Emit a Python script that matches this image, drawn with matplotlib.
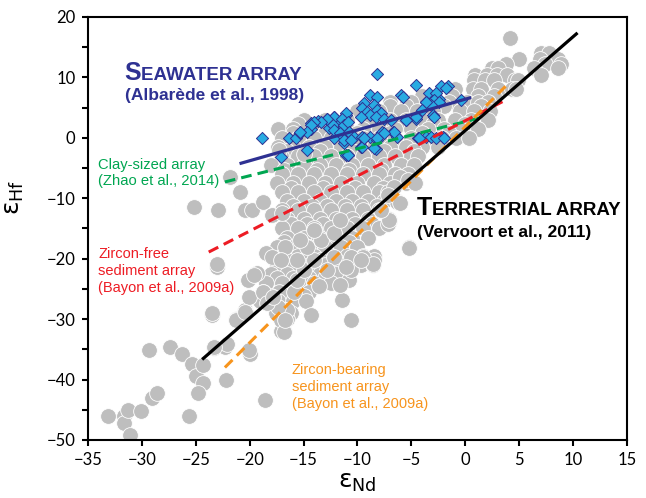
import matplotlib
matplotlib.use('Agg')
import matplotlib.pyplot as plt
import numpy as np

# gray circles: compiled crustal / sediment data (eNd, eHf)
gray_rows = {
    16.5: [4.1],
    14.0: [7.0, 7.8],
    13.0: [5.0, 6.9, 8.6],
    12.3: [3.8, 7.4, 8.9],
    11.5: [2.5, 3.0, 6.4, 8.6],
    10.4: [0.9, 2.0, 2.9, 3.9, 7.05],
    9.5: [0.8, 1.8, 2.7, 4.6, 4.9],
    8.0: [-1.0, 0.7, 1.5, 3.0, 4.3, 4.7],
    7.0: [-4.0, -1.2, 1.2, 2.7],
    6.0: [-7.0, -5.0, -3.0, -1.5, 0.2, 1.2, 2.1],
    5.25: [-7.0, -5.5, -2.0, 1.5],
    4.5: [-10.0, -8.0, -6.0, -4.5, -3.0, -0.5, 0.85, 2.25],
    3.0: [-15.0, -13.0, -11.0, -9.0, -7.0, -5.5, -4.0, -2.5, -1.0, 0.5, 2.1],
    2.25: [-15.5, -12.0, -9.0, -6.0, -3.0, 0.0],
    1.5: [-17.4, -16.0, -14.0, -12.5, -11.0, -9.5, -8.0, -6.5, -5.0, -3.5, -2.0, -0.5, 1.2],
    0.75: [-16.0, -13.0, -10.0, -7.0, -4.0, -1.5],
    0.0: [-17.0, -15.5, -14.0, -12.5, -11.0, -9.5, -8.0, -6.5, -5.0, -3.5, -2.2, -0.9, 0.3],
    -1.5: [-17.4, -16.0, -14.5, -13.0, -11.5, -10.0, -8.5, -7.0, -5.5, -4.0, -2.5],
    -2.25: [-16.5, -13.5, -10.5, -7.5, -4.8],
    -3.0: [-17.1, -15.5, -14.0, -12.5, -11.0, -9.5, -8.0, -6.5, -5.0, -4.4],
    -4.5: [-18.0, -16.5, -15.0, -13.5, -12.0, -10.5, -9.0, -7.5, -6.0, -4.8],
    -5.25: [-16.8, -13.8, -10.8, -7.8],
    -6.0: [-17.0, -15.5, -14.0, -12.5, -11.0, -9.5, -8.0, -6.5, -5.3],
    -7.5: [-17.5, -16.0, -14.5, -13.0, -11.5, -10.0, -8.5, -7.0, -5.5, -4.7],
    -8.25: [-16.2, -13.2, -10.2, -7.6],
    -9.0: [-17.0, -15.5, -14.0, -12.5, -11.0, -9.5, -8.0, -7.2],
    -10.5: [-16.5, -15.0, -13.5, -12.0, -10.5, -9.0, -7.5, -6.3],
    -11.25: [-16.0, -14.2, -12.8, -11.2, -9.7, -8.2],
    -12.0: [-17.0, -15.5, -14.0, -12.5, -11.0, -9.5, -8.0],
    -13.5: [-16.5, -15.0, -13.5, -12.0, -10.5, -9.0, -7.1],
    -14.25: [-16.2, -14.7, -13.2, -11.7, -10.2, -8.7],
    -15.0: [-17.0, -15.5, -14.0, -12.5, -11.0, -9.5, -8.0],
    -16.5: [-16.5, -15.0, -13.5, -12.0, -10.5, -9.0],
    -17.25: [-16.8, -15.2, -13.7, -12.2, -10.8],
    -18.0: [-17.5, -16.0, -14.5, -13.0, -11.5, -10.0, -5.2],
    -19.5: [-17.0, -15.5, -14.0, -12.5, -11.0, -9.5, -8.5],
    -20.25: [-16.5, -15.0, -13.5, -12.0, -10.5],
    -21.0: [-17.5, -16.0, -14.5, -13.0, -11.5, -9.7, -8.6],
    -22.5: [-19.5, -18.0, -16.5, -15.0, -13.5, -12.0],
    -23.25: [-17.5, -16.0, -14.5, -13.0],
    -24.0: [-18.5, -17.0, -15.5, -14.0, -12.5],
    -25.5: [-18.8, -17.3, -15.9, -14.5],
    -26.25: [-18.0, -16.5, -15.0],
    -27.0: [-19.0, -17.4, -16.0, -14.8],
    -28.5: [-20.4, -16.5],
    -29.0: [-16.2, -17.6],
    -30.0: [-21.3, -17.1, -16.5],
    -32.0: [-16.8, -17.1],
}
gray_out_x = [-33.1, -31.7, -31.7, -31.25, -31.1, -30.1, -29.1, -28.6, -29.3, -27.4,
              -26.3, -25.35, -25.0, -24.3, -24.8, -25.6, -24.3, -23.3, -22.3, -22.1,
              -20.0, -22.2, -18.6, -23.0, -23.5, -21.2, -20.3, -20.1, -20.2, -18.5,
              -19.3, -18.8, -17.9, -16.7, -14.35, -13.6, -11.4, -10.6, -10.8, -17.1,
              -16.8, -16.5, -17.4, -15.9, -18.4, -17.8, -15.6, -15.0, -14.0, -15.6,
              -17.1, -14.7, -13.4, -15.3, -12.2, -14.0, -12.2, -10.6, -12.8, -11.6,
              -21.8, -20.9, -22.9, -20.4, -19.8, -18.8, -17.9, -17.0, -23.0, -25.2,
              -6.3, -7.1, -5.2, -8.5, -9.5, -10.6, -7.2, -8.6, -11.1, -9.7,
              -6.1, -5.35, -4.7, -6.6, -7.2, -6.1, -7.1, -7.8, -17.3, -15.0,
              -23.5, -21.3, -20.4, -19.6, -16.7, -20.1, -23.3, -11.6]
gray_out_y = [-46.0, -46.1, -47.2, -45.0, -49.2, -45.2, -43.1, -42.2, -35.1, -34.6,
              -35.7, -37.5, -39.4, -40.5, -42.2, -46.1, -37.6, -34.8, -34.6, -34.1,
              -35.7, -40.0, -43.4, -21.3, -29.3, -30.0, -29.0, -26.4, -23.5, -19.1,
              -22.4, -25.5, -19.7, -18.0, -29.3, -24.6, -26.8, -30.1, -23.5, -30.1,
              -32.1, -28.5, -28.0, -25.5, -27.4, -26.3, -23.5, -21.9, -20.2, -20.2,
              -20.2, -18.0, -16.9, -16.9, -15.8, -15.2, -19.7, -21.9, -21.9, -13.6,
              -6.4, -8.9, -11.9, -11.9, -11.9, -10.6, -12.8, -12.5, -20.8, -11.4,
              -10.6, -13.9, -18.3, -20.2, -19.7, -19.7, -14.2, -20.8, -21.3, -20.2,
              -6.4, -7.0, -7.5, -8.1, -9.5, -10.8, -13.6, -11.9, -2.0, -2.6,
              -29.0, -30.1, -28.8, -22.7, -30.1, -35.1, -34.6, -24.4]

gray_x = [x for y, xs in gray_rows.items() for x in xs] + gray_out_x
gray_y = [y for y, xs in gray_rows.items() for x in xs] + gray_out_y

# blue diamonds: seawater (Fe-Mn crusts / nodules)
sw_x = [-18.85, -17.1, -16.4, -15.7, -15.3, -14.35, -14.35, -13.7, -12.8, -12.2,
        -11.1, -11.6, -14.65, -12.6, -12.2, -11.25, -11.1, -10.6,
        -8.15, -4.6, -6.0, -3.35, -1.6, -8.8, -8.15, -3.65, -3.0, -2.4,
        -9.4, -8.5, -9.55, -9.1, -8.15, -7.85, -8.8, -8.3, -7.55, -9.7,
        -6.9, -5.5, -4.6, -11.1, -12.2, -11.4, -12.8, -13.4, -14.0, -14.35,
        -12.3, -11.25, -10.9, -12.2, -11.6, -10.8, -10.3, -9.55, -8.8, -8.15,
        -7.7, -6.75, -6.3, -11.25, -10.6, -9.7, -8.3, -10.9, -14.65, -15.3,
        -3.65, -3.2, -2.25, -1.8, -2.7, -2.9, -2.4, -3.2, -3.65, -3.0,
        -0.4, -4.0, -2.1, -2.7, -4.4, -5.8, -2.9, -4.3, -1.95, -4.6,
        -6.6, -5.5, -8.45, -9.55, -7.5, -8.15, -9.4, -10.9]
sw_y = [0.0, -3.1, 0.0, 0.0, 0.85, 1.4, 2.5, 2.8, 3.2, 3.5,
        3.8, 2.4, -2.0, 1.6, -0.1, -0.9, -2.8, 0.2,
        10.6, 8.75, 7.1, 7.4, 8.5, 7.1, 6.8, 6.0, 6.3, 6.5,
        5.7, 5.4, 4.9, 4.3, 4.6, 4.1, 3.8, 3.5, 3.2, 3.5,
        2.95, 2.95, 3.2, 4.1, 3.5, 3.2, 3.2, 2.7, 2.7, 2.1,
        2.1, 2.1, 2.7, 1.3, 0.75, 1.0, 0.2, 0.2, 0.2, -0.35,
        1.0, 1.0, 0.2, -0.35, -0.35, -1.5, -1.9, -2.8, 1.0, 1.0,
        0.2, 0.2, 8.5, 8.2, 7.4, 6.3, 6.0, 5.4, 6.0, 3.8,
        6.3, 4.6, 0.2, -0.1, -0.1, 6.7, 3.5, -0.1, -0.1, 3.5,
        1.0, 2.95, -1.75, -1.5, 0.75, -0.1, -0.1, -2.8]

# array lines (eNd endpoints, eHf endpoints)
seawater_x, seawater_y = [-20.8, 0.4], [-4.2, 6.6]
terrestrial_x, terrestrial_y = [-24.3, 10.3], [-36.5, 17.2]
zircon_bearing_x, zircon_bearing_y = [-22.3, 4.0], [-38.0, 9.0]
zircon_free_x, zircon_free_y = [-23.8, 3.9], [-18.9, 6.4]
clay_x, clay_y = [-22.3, 1.7], [-7.3, 3.45]

navy = '#2E3192'
green = '#00A651'
red = '#ED1C24'
orange = '#F7941D'
font = 'Liberation Sans'

fig = plt.figure(figsize=(6.46, 4.98), dpi=100)
ax = fig.add_axes([0.1362, 0.1165, 0.8344, 0.8494])

ax.scatter(gray_x, gray_y, s=128, c='#BEBEBE', edgecolors='white', linewidths=0.6, zorder=2)
ax.scatter(sw_x, sw_y, s=38, marker='D', c='#29ABE2', edgecolors=navy, linewidths=0.7, zorder=3)

dash = (0, (3.5, 2.0))
ax.plot(clay_x, clay_y, color=green, lw=2.2, ls=dash, zorder=4)
ax.plot(zircon_free_x, zircon_free_y, color=red, lw=2.2, ls=dash, zorder=4)
ax.plot(zircon_bearing_x, zircon_bearing_y, color=orange, lw=2.2, ls=dash, zorder=4)
ax.plot(terrestrial_x, terrestrial_y, color='black', lw=2.3, zorder=5)
ax.plot(seawater_x, seawater_y, color=navy, lw=2.3, zorder=5)

# small-caps headings
t1 = ax.text(-31.6, 9.6, 'S', fontsize=18, fontweight='bold', color=navy, family=font, va='baseline')
ax.annotate('EAWATER ARRAY', xy=(1, 9.6), xycoords=(t1, 'data'), fontsize=13.5, fontweight='bold',
            color=navy, family=font, va='baseline')
ax.text(-31.55, 6.25, '(Albarède et al., 1998)', fontsize=12.5, fontweight='bold', color=navy,
        family=font, va='baseline')

t2 = ax.text(-4.5, -12.8, 'T', fontsize=18, fontweight='bold', color='black', family=font, va='baseline')
ax.annotate('ERRESTRIAL ARRAY', xy=(1, -12.8), xycoords=(t2, 'data'), fontsize=13.5, fontweight='bold',
            color='black', family=font, va='baseline')
ax.text(-4.5, -16.4, '(Vervoort et al., 2011)', fontsize=12.5, fontweight='bold', color='black',
        family=font, va='baseline')

ax.text(-34.05, -3.3, 'Clay-sized array\n(Zhao et al., 2014)', fontsize=10.6, color=green,
        family=font, va='top', linespacing=1.2)
ax.text(-34.05, -18.1, 'Zircon-free\nsediment array\n(Bayon et al., 2009a)', fontsize=10.5, color=red,
        family=font, va='top', linespacing=1.25)
ax.text(-16.1, -37.3, 'Zircon-bearing\nsediment array\n(Bayon et al., 2009a)', fontsize=10.5, color=orange,
        family=font, va='top', linespacing=1.25)

ax.set_xlim(-35, 15)
ax.set_ylim(-50, 20)
ax.set_xticks(np.arange(-35, 16, 5))
ax.set_yticks(np.arange(-50, 21, 10))
ax.set_yticks(np.arange(-45, 20, 10), minor=True)
ax.tick_params(which='both', direction='out', length=4, width=1.5, labelsize=12, pad=5)
for lab in ax.get_xticklabels() + ax.get_yticklabels():
    lab.set_family('Lato')
for sp in ax.spines.values():
    sp.set_linewidth(1.5)

ax.set_xlabel(r'ε$_{\mathregular{Nd}}$', fontsize=18, labelpad=1)
ax.set_ylabel(r'ε$_{\mathregular{Hf}}$', fontsize=18)
ax.yaxis.set_label_coords(-0.115, 0.574)

fig.savefig('out.png', dpi=100)
